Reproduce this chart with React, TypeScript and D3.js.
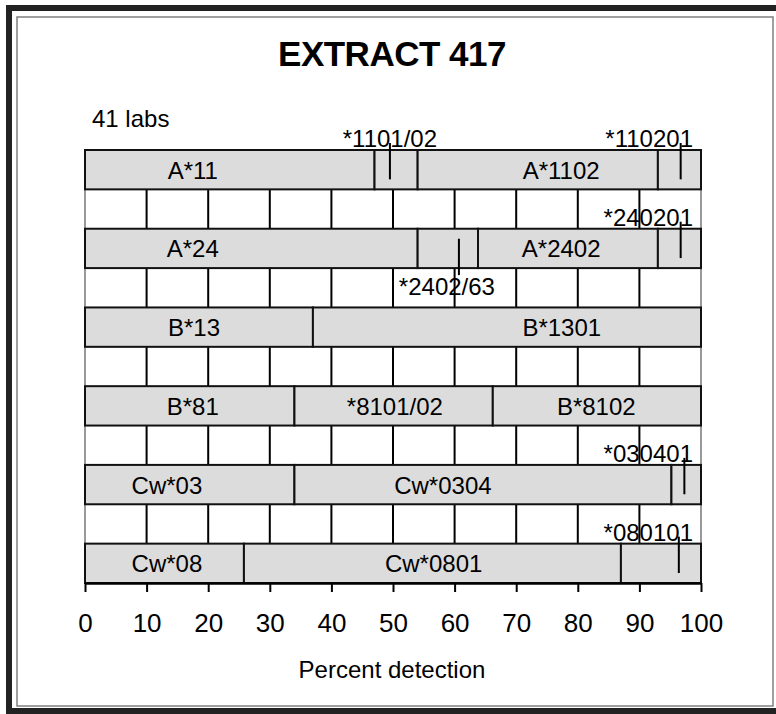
import React, { useEffect, useRef } from "react";
import * as d3 from "d3";

// one row per allele group, top to bottom
const rowNames = ["A*11", "A*24", "B*13", "B*81", "Cw*03", "Cw*08"];

// segment boundaries (percent detection) for each row
const rowBreaks = [
  [0, 47, 54, 93, 100],
  [0, 54, 63.8, 93, 100],
  [0, 37, 100],
  [0, 34, 66.2, 100],
  [0, 34, 95.2, 100],
  [0, 25.8, 87, 100]
];

// text inside each segment ("" = no text)
const rowLabels = [
  ["A*11", "", "A*1102", ""],
  ["A*24", "", "A*2402", ""],
  ["B*13", "B*1301"],
  ["B*81", "*8101/02", "B*8102"],
  ["Cw*03", "Cw*0304", ""],
  ["Cw*08", "Cw*0801", ""]
];

// where that text sits, in percent
const rowLabelAt = [
  [17.5, 0, 77.3, 0],
  [17.5, 0, 77.3, 0],
  [17.7, 77.4],
  [17.5, 50.3, 83],
  [13.3, 58.1, 0],
  [13.3, 56.6, 0]
];

// callout markers
const markerRows = ["A*11", "A*11", "A*24", "A*24", "Cw*03", "Cw*08"];
const markerValues = [49.5, 96.7, 60.7, 96.7, 97.3, 96.4];
const markerLabels = ["*1101/02", "*110201", "*2402/63", "*240201", "*030401", "*080101"];
const markerBelow = [false, false, true, false, false, false];

const xTicks = [0, 10, 20, 30, 40, 50, 60, 70, 80, 90, 100];
const gridValues = [10, 20, 30, 40, 50, 60, 70, 80, 90];

const width = 776,
  height = 714;
const font = "'Liberation Sans', Arial, Helvetica, sans-serif";

export default function App() {
  const ref = useRef<SVGSVGElement>(null);

  useEffect(() => {
    const svg = d3.select(ref.current);
    svg.html("");
    svg.style("font-family", font);

    const x = d3.scaleLinear().domain([0, 100]).range([85, 701]);
    const y = d3
      .scaleBand()
      .domain(rowNames)
      .range([150, 583])
      .paddingInner(0.5)
      .paddingOuter(0);
    const bw = y.bandwidth();
    const plotTop = y.range()[0],
      plotBottom = y.range()[1];

    // frame
    svg
      .append("rect")
      .attr("x", 9)
      .attr("y", 8)
      .attr("width", 800)
      .attr("height", 703)
      .attr("fill", "none")
      .attr("stroke", "#222")
      .attr("stroke-width", 6);
    svg
      .append("rect")
      .attr("x", 17)
      .attr("y", 17)
      .attr("width", 756)
      .attr("height", 689)
      .attr("fill", "none")
      .attr("stroke", "#808080")
      .attr("stroke-width", 1.5);

    // title
    svg
      .append("text")
      .attr("x", 392)
      .attr("y", 66)
      .attr("text-anchor", "middle")
      .attr("font-size", 35)
      .attr("font-weight", "bold")
      .attr("letter-spacing", -0.5)
      .text("EXTRACT 417");

    svg
      .append("text")
      .attr("x", 92)
      .attr("y", 127)
      .attr("font-size", 24)
      .text("41 labs");

    // plot edges + grid
    svg
      .selectAll(".edge")
      .data([0, 100])
      .enter()
      .append("line")
      .attr("x1", d => x(d))
      .attr("x2", d => x(d))
      .attr("y1", plotTop)
      .attr("y2", plotBottom)
      .attr("stroke", "#999")
      .attr("stroke-width", 2);
    svg
      .selectAll(".grid")
      .data(gridValues)
      .enter()
      .append("line")
      .attr("x1", d => x(d))
      .attr("x2", d => x(d))
      .attr("y1", plotTop)
      .attr("y2", plotBottom)
      .attr("stroke", "#000")
      .attr("stroke-width", 2);

    // bars
    rowNames.forEach((row, i) => {
      const breaks = rowBreaks[i];
      const g = svg.append("g");
      for (let j = 0; j < breaks.length - 1; j++) {
        g.append("rect")
          .attr("x", x(breaks[j]))
          .attr("y", y(row))
          .attr("width", x(breaks[j + 1]) - x(breaks[j]))
          .attr("height", bw)
          .attr("fill", "#dcdcdc")
          .attr("stroke", "#111")
          .attr("stroke-width", 2);
        if (rowLabels[i][j]) {
          g.append("text")
            .attr("x", x(rowLabelAt[i][j]))
            .attr("y", y(row) + bw / 2 + 9)
            .attr("text-anchor", "middle")
            .attr("font-size", 24)
            .text(rowLabels[i][j]);
        }
      }
    });

    // markers
    markerValues.forEach((v, i) => {
      const top = y(markerRows[i]),
        bottom = top + bw,
        below = markerBelow[i];
      svg
        .append("line")
        .attr("x1", x(v))
        .attr("x2", x(v))
        .attr("y1", below ? top + 10 : top - 7)
        .attr("y2", below ? bottom + 7 : bottom - 10)
        .attr("stroke", "#000")
        .attr("stroke-width", 2);
      const t = svg
        .append("text")
        .attr("x", below ? x(v) - 12 : x(v))
        .attr("y", below ? bottom + 27 : top - 3)
        .attr("text-anchor", "middle")
        .attr("font-size", 24)
        .text(markerLabels[i]);
      const half = (t.node() as SVGTextElement).getComputedTextLength() / 2;
      const limit = x(100) - 8;
      if (x(v) + half > limit) t.attr("x", limit - half);
    });

    // axis
    const axis = d3
      .axisBottom(x)
      .tickValues(xTicks)
      .tickSize(9)
      .tickSizeOuter(0)
      .tickPadding(22)
      .tickFormat(d3.format("d"));
    const ax = svg
      .append("g")
      .attr("transform", `translate(0, ${plotBottom})`)
      .call(axis);
    ax.select(".domain").attr("stroke", "#000").attr("stroke-width", 2.5);
    ax.selectAll(".tick line").attr("stroke", "#000").attr("stroke-width", 2);
    ax.selectAll(".tick text")
      .attr("font-size", 26)
      .attr("font-family", font)
      .attr("fill", "#000");

    svg
      .append("text")
      .attr("x", 392)
      .attr("y", 678)
      .attr("text-anchor", "middle")
      .attr("font-size", 24)
      .text("Percent detection");
  }, []);

  return (
    <svg
      ref={ref}
      width={width}
      height={height}
      style={{ position: "absolute", left: 0, top: 0, background: "#fff" }}
    />
  );
}
